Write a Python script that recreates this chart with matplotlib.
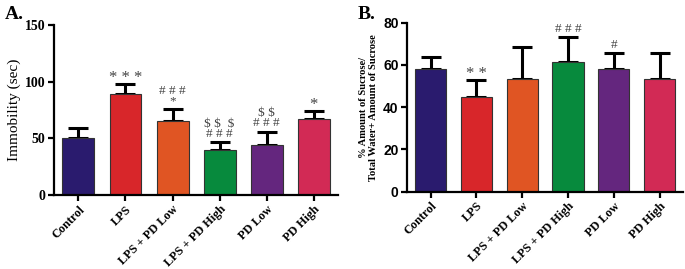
import matplotlib
matplotlib.use("Agg")
import matplotlib.pyplot as plt
import numpy as np

categories = ["Control", "LPS", "LPS + PD Low", "LPS + PD High", "PD Low", "PD High"]
immobility = [50, 89, 65.5, 39.5, 44.5, 67.5]
immobility_err = [9.5, 9, 10, 7, 11.5, 6.5]
sucrose = [58, 45, 53.5, 61.5, 58, 53.5]
sucrose_err = [5.5, 8, 15, 11.5, 7.5, 12]
colors = ["#2A1B6E", "#D8262A", "#E05523", "#078A3D", "#64267E", "#D22A55"]
ann_A = ["", "* * *", "# # #\n*", "$ $  $\n# # #", "$ $\n# # #", "*"]
ann_B = ["", "* *", "", "# # #", "#", ""]

serif = "Liberation Serif"
sans = "Liberation Sans"

fig = plt.figure(figsize=(6.85, 2.69), dpi=100)
axA = fig.add_axes([0.0788, 0.275, 0.4142, 0.632])
axB = fig.add_axes([0.594, 0.287, 0.403, 0.629])

x = np.arange(len(categories))


def draw(ax, vals, errs, ylim, yticks, tickfont, tfs, anns):
    ax.bar(x, vals, width=0.68, color=colors, edgecolor="#333333", linewidth=0.8, zorder=2)
    ax.errorbar(x, vals, yerr=[np.zeros(len(vals)), errs], fmt="none", ecolor="black",
                elinewidth=2.2, capsize=7, capthick=2.2, zorder=1)
    ax.set_xlim(-0.52, 5.51)
    ax.set_ylim(*ylim)
    ax.set_yticks(yticks)
    ax.set_xticks(x)
    ax.set_xticklabels(categories, rotation=45, ha="right", rotation_mode="anchor",
                       fontfamily=serif, fontweight="bold", fontsize=8.8)
    for lbl in ax.get_yticklabels():
        lbl.set_fontfamily(tickfont)
        lbl.set_fontweight("bold")
        lbl.set_fontsize(tfs)
    for s in ["top", "right"]:
        ax.spines[s].set_visible(False)
    for s in ["left", "bottom"]:
        ax.spines[s].set_linewidth(1.6)
    ax.tick_params(width=1.6, length=4, pad=2)
    for xi, v, e, a in zip(x, vals, errs, anns):
        if not a:
            continue
        star = set(a.replace(" ", "")) == {"*"}
        if star:
            ax.annotate(a, (xi, v + e), xytext=(0, -1.5), textcoords="offset points",
                        ha="center", va="bottom", fontfamily=serif, fontsize=12,
                        color="#444444", annotation_clip=False, parse_math=False)
        else:
            ax.annotate(a, (xi, v + e), xytext=(0, 1.5), textcoords="offset points",
                        ha="center", va="bottom", fontfamily=serif, fontsize=9.5,
                        color="#444444", linespacing=0.85, annotation_clip=False,
                        parse_math=False)


draw(axA, immobility, immobility_err, (0, 150), [0, 50, 100, 150], serif, 10, ann_A)
axA.set_ylabel("Immobility (sec)", fontfamily=serif, fontsize=11, labelpad=3)

draw(axB, sucrose, sucrose_err, (0, 80), [0, 20, 40, 60, 80], sans, 10, ann_B)
axB.set_ylabel("% Amount of Sucrose/\nTotal Water+ Amount of Sucrose", fontfamily=serif,
               fontweight="bold", fontsize=7.6, labelpad=4, linespacing=1.1)

fig.text(0.007, 0.93, "A.", fontfamily=serif, fontweight="bold", fontsize=14)
fig.text(0.522, 0.93, "B.", fontfamily=serif, fontweight="bold", fontsize=14)

fig.savefig("out.png", dpi=100)
